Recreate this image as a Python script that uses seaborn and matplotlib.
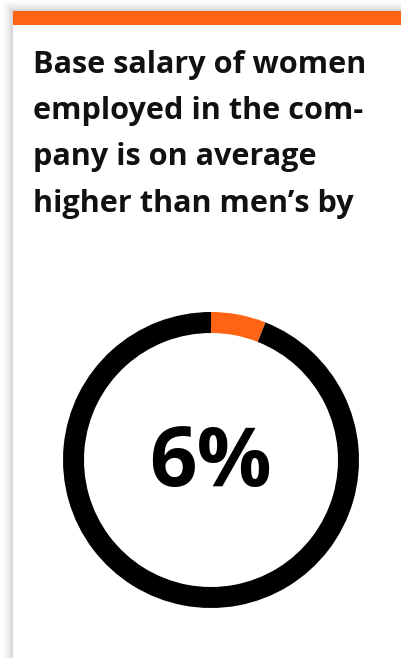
import numpy as np
import matplotlib
matplotlib.use("Agg")
import matplotlib.pyplot as plt
import seaborn as sns
from matplotlib.patches import Rectangle

sns.set_theme(style="white")
plt.rcParams['font.family'] = ['Open Sans', 'DejaVu Sans']

# Data
labels = ["Women above men", "Remainder"]
values = [6, 94]
center_label = "6%"
title_lines = ["Base salary of women", "employed in the com-",
               "pany is on average", "higher than men\u2019s by"]
ORANGE = "#FF6414"
BLACK = "#000000"

W, H = 401, 658
fig = plt.figure(figsize=(W / 100, H / 100), dpi=100)
fig.patch.set_facecolor("white")

# background / card shadow in pixel coordinates
bg = fig.add_axes([0, 0, 1, 1])
bg.set_xlim(0, W)
bg.set_ylim(H, 0)
bg.axis("off")
card_x, card_y = 13, 11
for i in range(12):
    a = 0.05 * (1 - i / 12)
    bg.add_patch(Rectangle((card_x - i - 1, card_y - i - 1), W + 20, H + 20, facecolor="black",
                           alpha=a * 0.5, edgecolor="none", zorder=0))
bg.add_patch(Rectangle((card_x, card_y), W - card_x, H, facecolor="white",
                       edgecolor="none", zorder=1))
bg.add_patch(Rectangle((card_x, card_y), W - card_x, 14, facecolor=ORANGE,
                       edgecolor="none", zorder=2))

# title: fit first line to target width
baselines = [73, 119, 165, 212]
renderer = fig.canvas.get_renderer()
fs = 20
probe = bg.text(33, 73, title_lines[0], fontsize=fs, fontweight="bold")
wpx = probe.get_window_extent(renderer).width
probe.remove()
fs = fs * 334 / wpx
for line, yb in zip(title_lines, baselines):
    bg.text(33, yb, line, fontsize=fs, fontweight="bold", color="#111111",
            va="baseline", ha="left", zorder=3)

# donut
cx, cy, R = 211, 460, 148
ax = fig.add_axes([(cx - R) / W, (H - cy - R) / H, 2 * R / W, 2 * R / H])
ax.pie(values, colors=[ORANGE, BLACK], startangle=90, counterclock=False,
       radius=1.0, wedgeprops=dict(width=21 / 148, edgecolor="none", linewidth=0))
ax.set_xlim(-1, 1)
ax.set_ylim(-1, 1)
ax.set_aspect("equal")
ax.axis("off")
ax.text(0, -0.03, center_label, ha="center", va="center", fontsize=60,
        fontweight="bold", color=BLACK)

fig.savefig("out.png", dpi=100, facecolor="white")
